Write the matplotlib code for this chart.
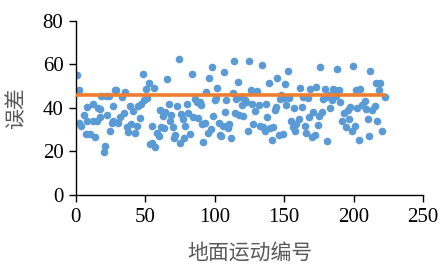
import matplotlib
matplotlib.use('Agg')
import matplotlib.pyplot as plt

# values
x_idx = [0.5, 2.4, 2, 4, 6, 7, 8, 8, 10, 12, 12, 14, 15, 16, 17, 17, 18, 20, 21, 22,
         22.5, 23.5, 24.5, 26, 27, 28, 29, 27, 30, 32, 33.5, 34.5, 35.5, 36.5, 37.4, 39,
         39.6, 41, 42.5, 43.7, 44.6, 46, 47, 48.5, 49, 50.4, 51, 52.5, 53, 54.5, 55, 56,
         57, 58.5, 60, 60.5, 61.4, 62.4, 63.3, 64.3, 65.7, 66.7, 67.7, 68.6, 69.6, 70.5,
         71.5, 72.5, 74, 74.9, 75.8, 76.8, 77.7, 78.7, 80, 81, 82, 83.5, 84, 86, 87, 88,
         89, 90, 90.7, 91.6, 92.9, 94, 95, 96, 97, 97.9, 98.8, 99.8, 100.8, 101.7, 102.7,
         103.6, 104.6, 105.6, 106.5, 107.5, 108.4, 109.4, 110.4, 111.8, 112.8, 113.7,
         114.7, 115.6, 116.6, 117.6, 118.5, 119.5, 120.4, 121.9, 122.8, 123.8, 124.8,
         125.7, 126.7, 127.6, 129, 130.5, 131.5, 132.4, 133.9, 134.8, 135.8, 136.8, 137.7,
         138.7, 140.1, 141.1, 142, 143, 144, 145, 145.9, 146.8, 147.8, 148.8, 149.7, 150.7,
         151.6, 152.6, 153.6, 155, 156, 156.9, 157.9, 158.8, 160.3, 161.2, 162.7, 163.6,
         165, 166, 167, 168, 168.9, 169.9, 170.8, 171.8, 173.2, 174.2, 175.1, 176.1, 177.1,
         178, 179, 179.9, 180.9, 182.3, 182.8, 184.3, 185.2, 186.2, 187.1, 188.1, 189.5,
         190.5, 191.4, 192.9, 194.3, 195.8, 196.7, 197.7, 198.7, 199.6, 200.6, 201.5,
         202.5, 203.5, 204.9, 206.3, 207.8, 209.2, 210.2, 211.1, 212.1, 213.5, 215, 215.9,
         216.9, 217.9, 219.3, 220.7, 222.2]
err = [55, 48, 33, 31.6, 36.9, 27.8, 40.4, 34, 28, 42, 34, 26.6, 34, 40, 36, 39.3, 45.3,
       19.7, 22.4, 45.6, 36.9, 45.3, 29.3, 33.2, 40.8, 48.4, 48, 34.2, 33, 35.8, 45, 37.8,
       47.1, 31, 28.9, 40.7, 32.7, 38.4, 28.6, 31.9, 40.7, 35.5, 42, 55.4, 43.5, 48.8,
       44.4, 51.4, 23.5, 31.5, 23.8, 49.3, 22, 28.4, 26.9, 38.8, 31.2, 36.5, 30.9, 38.1,
       53.4, 41.6, 34.2, 36.9, 31.2, 26.3, 27.6, 41, 62.2, 23.8, 37.3, 34.7, 26.3, 31.5,
       41.6, 37.8, 27.8, 55.7, 35.8, 43.9, 42.7, 35.5, 42.7, 41.2, 32.7, 24.3, 33, 47.1,
       28.6, 53.6, 30.4, 58.8, 36.1, 43.5, 44.7, 49.1, 33.2, 27.6, 27.3, 31.8, 56.4, 37.9,
       43.5, 30.9, 32.7, 26.1, 46.8, 61.3, 37.8, 44.1, 51.9, 36.7, 45, 41.2, 36.5, 43.5,
       42.5, 29.2, 61.6, 48.1, 41.6, 32.7, 38.4, 47.6, 41.2, 31.9, 59.6, 31.2, 29.6, 41.9,
       35.9, 51.3, 30.9, 25.3, 31.2, 38.8, 40.4, 53.9, 27.5, 44.1, 46.1, 28.1, 44.7, 51.1,
       41.5, 57.1, 44.7, 33.9, 31.2, 39.9, 29.3, 32.7, 35, 49.1, 40.4, 45, 31.9, 28.4,
       44.7, 35.8, 48.5, 26.6, 38.1, 27.5, 49.6, 32.2, 36.5, 58.8, 38.1, 43.9, 48.7, 45,
       25, 45.8, 40.1, 43.5, 48.8, 48.4, 45.3, 57.7, 48.4, 42.8, 34.2, 37.8, 31.2, 38.8,
       35, 40.4, 29.3, 59.3, 31.9, 48.1, 39.9, 25.3, 48.8, 41.2, 43, 39.3, 35, 27.2, 57,
       38.8, 40.7, 51.6, 34.2, 48.1, 51.4, 29.3, 45]
mean_x = [0, 222]
mean_err = [46, 46]

plt.rcParams['font.family'] = ['Liberation Serif', 'Noto Sans CJK SC']

fig = plt.figure(figsize=(4.44, 2.68), dpi=100)
ax = fig.add_axes([0.171, 0.272, 0.782, 0.651])

ax.scatter(x_idx, err, s=30, color='#5B9BD5', zorder=2, linewidths=0)
ax.plot(mean_x, mean_err, color='#ED7D31', lw=2.6, zorder=3)

ax.set_xlim(0, 250)
ax.set_ylim(0, 80)
ax.set_xticks(range(0, 251, 50))
ax.set_yticks(range(0, 81, 20))
ax.tick_params(labelsize=15, length=5, width=1, direction='out', pad=4)
for s in ['top', 'right']:
    ax.spines[s].set_visible(False)
for s in ['left', 'bottom']:
    ax.spines[s].set_linewidth(1)

cjk = ['Noto Sans CJK SC']
ax.set_xlabel('地面运动编号', family=cjk, fontsize=15, color='#595959')
ax.set_ylabel('误差', family=cjk, fontsize=15, color='#595959')
ax.xaxis.set_label_coords(0.5, -0.33)
ax.yaxis.set_label_coords(-0.173, 0.5)
ax.xaxis.label.set_va('center')
ax.yaxis.label.set_va('center')

fig.savefig('out.png', dpi=100)
